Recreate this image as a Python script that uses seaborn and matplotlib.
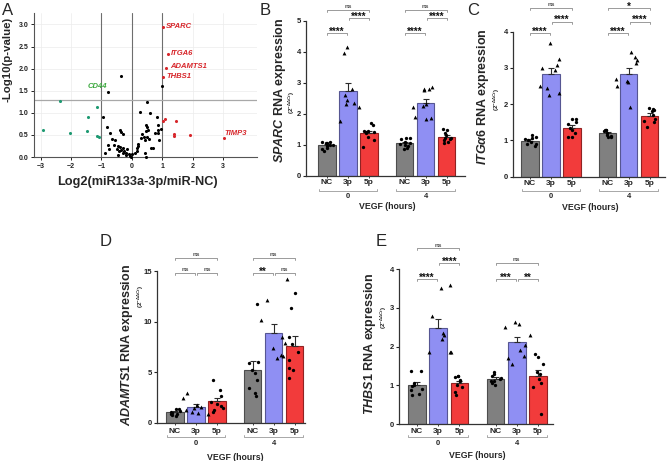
import numpy as np
import pandas as pd
import matplotlib
matplotlib.use('Agg')
from matplotlib import pyplot as plt
import seaborn as sns

sns.set_theme(style='ticks')
plt.rcParams['font.family'] = ['Liberation Sans', 'DejaVu Sans']
plt.rcParams['font.weight'] = 'bold'
plt.rcParams['mathtext.fontset'] = 'custom'
plt.rcParams['mathtext.it'] = 'Liberation Sans:italic:bold'
plt.rcParams['mathtext.rm'] = 'Liberation Sans:bold'
plt.rcParams['mathtext.bf'] = 'Liberation Sans:bold'
np.random.seed(7)

'''-------------------------------------------------------------
                    PANEL A - VOLCANO DATA
----------------------------------------------------------------'''
black_x = [-0.36, -0.78, 0.98, 0.49, -0.94, -0.83, -0.73, -0.64, -0.78, -0.74, -0.88, -0.39,
           -0.36, -0.28, -0.56, -0.45, -0.40, -0.48, -0.42, -0.35, -0.30, -0.25, -0.20, -0.15,
           -0.10, -0.05, -0.45, -0.30, -0.20, 0.02, -0.03, 0.16, 0.21, 0.18, 0.10, 0.45, 0.43,
           0.50, 0.55, 0.40, 0.44, 0.70, 0.63, 0.27, 0.60, 0.82, 0.48, 0.50, 0.52, 0.46, 0.85,
           0.87, 0.86, 0.95, 0.90, 0.33, 0.20, -0.60, 0.75, 0.30]
black_y = [1.83, 1.48, 1.61, 1.25, 0.90, 0.68, 0.55, 0.40, 0.27, 0.19, 0.10, 0.61,
           0.56, 0.51, 0.38, 0.25, 0.22, 0.18, 0.13, 0.16, 0.20, 0.14, 0.10, 0.18,
           0.06, 0.03, 0.05, 0.08, 0.04, 0.07, 0.01, 0.20, 0.24, 0.14, 0.10, 0.01, 0.38,
           0.46, 0.40, 0.45, 0.09, 0.21, 0.20, 1.01, 1.00, 0.91, 0.72, 0.68, 0.62, 0.58, 0.72,
           0.62, 0.55, 0.63, 0.38, 0.52, 0.30, 0.28, 0.55, 0.42]
green_x = [-2.93, -2.36, -2.05, -1.45, -1.47, -1.13, -1.16, -1.09]
green_y = [0.62, 1.27, 0.54, 0.91, 0.59, 1.13, 0.48, 0.46]
red_x = [1.01, 1.18, 1.12, 1.01, 1.03, 1.10, 1.46, 1.38, 1.40, 1.91, 3.04]
red_y = [2.95, 2.34, 2.01, 1.82, 0.82, 0.85, 0.81, 0.52, 0.47, 0.49, 0.42]
red_names = ['SPARC', 'ITGA6', 'ADAMTS1', 'THBS1', '', '', '', '', '', '', 'TIMP3']
cd44_point = (-0.78, 1.48)

'''-------------------------------------------------------------
        BAR PANELS - order: NC, 3p, 5p (0 h), NC, 3p, 5p (4 h)
----------------------------------------------------------------'''
conds = ['NC', '3p', '5p', 'NC', '3p', '5p']
vegf = ['0', '4']

sparc_vals = [[1.1, 1.1, 1.05, 1.0, 1.0, 0.95, 0.9, 0.85, 0.8, 1.05],
              [4.15, 3.95, 2.8, 2.6, 2.45, 2.35, 2.3, 2.2, 1.77],
              [1.7, 1.62, 1.45, 1.45, 1.42, 1.4, 1.38, 1.25, 1.15, 0.93],
              [1.22, 1.2, 1.18, 1.1, 1.05, 1.02, 1.0, 0.95, 0.9, 0.85],
              [2.85, 2.8, 2.78, 2.8, 2.3, 2.25, 2.2, 1.9, 1.85, 1.82],
              [1.5, 1.46, 1.38, 1.3, 1.22, 1.2, 1.17, 1.15, 1.1, 1.05]]
sparc_sig = [(0, 1, 4.6, '****'), (1, 2, 5.09, '****'), (0, 2, 5.35, 'ns'),
             (3, 4, 4.6, '****'), (4, 5, 5.09, '****'), (3, 5, 5.35, 'ns')]

itga6_vals = [[1.15, 1.1, 1.08, 1.05, 1.0, 0.95, 0.9, 0.9, 0.85],
              [3.7, 3.25, 3.08, 3.0, 2.95, 2.5, 2.45, 2.3, 2.25],
              [1.6, 1.58, 1.5, 1.45, 1.35, 1.3, 1.2, 1.1, 1.1],
              [1.3, 1.3, 1.28, 1.25, 1.2, 1.15, 1.12, 1.1, 1.1],
              [3.45, 3.3, 3.22, 3.15, 2.7, 2.65, 2.6, 2.5, 1.93],
              [1.9, 1.88, 1.85, 1.8, 1.7, 1.6, 1.55, 1.5, 1.38]]
itga6_sig = [(0, 1, 3.96, '****'), (1, 2, 4.28, '****'), (0, 2, 4.65, 'ns'),
             (3, 4, 3.96, '****'), (4, 5, 4.28, '****'), (3, 5, 4.65, '*')]

adamts1_vals = [[1.4, 1.35, 1.2, 1.1, 1.0, 0.9, 0.85, 0.75, 0.65],
                [2.9, 2.4, 1.75, 1.6, 1.5, 1.25, 1.1, 1.0, 0.9],
                [4.2, 3.2, 2.6, 2.0, 1.8, 1.7, 1.5, 1.25, 1.1],
                [11.7, 6.0, 5.9, 5.2, 4.9, 4.2, 3.4, 2.9, 2.6],
                [14.2, 12.1, 10.2, 8.5, 7.9, 7.4, 6.7, 6.6, 6.4],
                [12.8, 11.3, 8.5, 7.8, 7.0, 6.2, 5.4, 5.2, 4.4]]
adamts1_sig = [(0, 1, 14.78, 'ns'), (1, 2, 14.78, 'ns'), (0, 2, 16.26, 'ns'),
               (3, 4, 14.78, '**'), (4, 5, 14.78, 'ns'), (3, 5, 16.26, 'ns')]

thbs1_vals = [[1.38, 1.37, 1.05, 1.0, 0.98, 0.9, 0.88, 0.77, 0.75],
              [3.58, 3.5, 2.8, 2.35, 2.3, 2.2, 1.87, 1.85, 1.85],
              [1.25, 1.24, 1.22, 1.14, 1.1, 1.0, 0.96, 0.83, 0.75],
              [1.35, 1.28, 1.25, 1.2, 1.15, 1.12, 1.1, 1.05, 1.0],
              [2.62, 2.58, 2.5, 2.3, 2.05, 1.9, 1.75, 1.7, 1.55],
              [1.8, 1.73, 1.55, 1.35, 1.3, 1.15, 1.05, 0.95, 0.25]]
thbs1_sig = [(0, 1, 3.73, '****'), (1, 2, 4.15, '****'), (0, 2, 4.53, 'ns'),
             (3, 4, 3.73, '***'), (4, 5, 3.73, '**'), (3, 5, 4.15, 'ns')]

'''-------------------------------------------------------------
                        FIGURE / LAYOUT
----------------------------------------------------------------'''
W, H = 669, 461
fig = plt.figure(figsize=(W / 100, H / 100), dpi=100)
positions = [0, 1, 2, 3.7, 4.7, 5.7]
palette = {'NC': '#808080', '3p': '#8f8ff3', '5p': '#f23b3b'}


def add_ax(l, t, r, b):
    return fig.add_axes([l / W, 1 - b / H, (r - l) / W, (b - t) / H])


def ftext(x, y, s, **kw):
    fig.text(x / W, 1 - y / H, s, **kw)


'''-------------------------------------------------------------
                        PANEL A - VOLCANO
----------------------------------------------------------------'''
axA = add_ax(34, 13, 257, 157)
axA.set_xlim(-3.22, 4.12)
axA.set_ylim(0, 3.26)
axA.grid(True, color='#ececec', lw=0.5)
axA.set_axisbelow(True)
for xv in [-1, 0, 1]:
    axA.axvline(xv, color='#6e6e6e', lw=0.8, zorder=1)
axA.axhline(1.3, color='#a8a8a8', lw=0.9, zorder=1)
sns.scatterplot(x=black_x, y=black_y, color='black', s=5, linewidth=0, ax=axA, clip_on=False, zorder=3)
sns.scatterplot(x=green_x, y=green_y, color='#1e9a72', s=5, linewidth=0, ax=axA, clip_on=False, zorder=3)
sns.scatterplot(x=red_x, y=red_y, color='#d7262b', s=5, linewidth=0, ax=axA, clip_on=False, zorder=3)
offsets = {'SPARC': (2.5, 0), 'ITGA6': (2, 0), 'ADAMTS1': (3, 1.5), 'THBS1': (3, 0), 'TIMP3': (0.5, 3.5)}
for xv, yv, nm in zip(red_x, red_y, red_names):
    if nm:
        axA.annotate(nm, (xv, yv), xytext=offsets[nm], textcoords='offset points', color='#d7262b',
                     fontsize=5.5, fontstyle='italic', va='center', ha='left', annotation_clip=False)
axA.annotate('CD44', cd44_point, xytext=(-1, 4), textcoords='offset points', color='#3aa83c',
             fontsize=5.5, fontstyle='italic', va='center', ha='right')
axA.set_xticks(range(-3, 4))
axA.set_yticks(np.arange(0, 3.01, 0.5))
axA.set_yticklabels(['%.1f' % v for v in np.arange(0, 3.01, 0.5)])
axA.tick_params(labelsize=5, length=2.5, width=0.7, pad=1.5, colors='#222')
for s in ['top', 'right']:
    axA.spines[s].set_visible(False)
for s in ['left', 'bottom']:
    axA.spines[s].set_color('#555')
    axA.spines[s].set_linewidth(0.8)
ftext(137.5, 181.5, 'Log2(miR133a-3p/miR-NC)', ha='center', va='center', fontsize=9.2)
ftext(8, 59, '-Log10(p-value)', ha='center', va='center', rotation=90, fontsize=8.2)


'''-------------------------------------------------------------
                        BAR PANELS
----------------------------------------------------------------'''
def yfrac(ax, off_px):
    return -off_px / (ax.get_position().height * H)


def bar_panel(box, vals, xlim, ylim, yticks, sig, ylabel, lab_xy, sub_xy, offs):
    ax = add_ax(*box)
    rows = []
    for p, c, v in zip(positions, conds, vals):
        for val in v:
            rows.append({'pos': p, 'cond': c, 'val': val})
    df = pd.DataFrame(rows)
    sns.barplot(data=df, x='pos', y='val', hue='cond', palette=palette, native_scale=True,
                errorbar=None, width=0.82, dodge=False, legend=False, saturation=1, ax=ax)
    for patch in ax.patches:
        fc = patch.get_facecolor()
        patch.set_edgecolor(tuple(c * 0.6 for c in fc[:3]))
        patch.set_linewidth(0.8)
    stats = df.groupby('pos')['val'].agg(['mean', 'sem']).loc[positions]
    ax.errorbar(positions, stats['mean'], yerr=[np.zeros(len(positions)), stats['sem']], fmt='none',
                ecolor='#2b2b2b', elinewidth=0.8, capsize=2.2, capthick=0.8, zorder=3)
    sns.stripplot(data=df[df.cond != '3p'], x='pos', y='val', native_scale=True, color='black',
                  marker='o', size=2.4, jitter=0.17, ax=ax, zorder=4)
    sns.stripplot(data=df[df.cond == '3p'], x='pos', y='val', native_scale=True, color='black',
                  marker='^', size=2.8, jitter=0.17, ax=ax, zorder=4)
    ax.set_xlim(*xlim)
    ax.set_ylim(*ylim)
    ax.set_yticks(yticks)
    ax.set_xticks(positions)
    ax.set_xticklabels([])
    ax.set_xlabel('')
    ax.set_ylabel('')
    ax.tick_params(axis='y', labelsize=5.5, length=2.5, width=0.8, pad=1.2, colors='#222')
    ax.tick_params(axis='x', length=1.5, width=0.6, colors='#222')
    sns.despine(ax=ax)
    for s in ['left', 'bottom']:
        ax.spines[s].set_color('#333')
        ax.spines[s].set_linewidth(0.9)

    # significance brackets
    axh = ax.get_position().height * H
    tick = 2.0 / axh * (ylim[1] - ylim[0])
    for g1, g2, yv, txt in sig:
        x1 = positions[g1] + (0.05 if g1 in (1, 4) else 0)
        x2 = positions[g2] - (0.05 if g2 in (1, 4) else 0)
        ax.plot([x1, x1, x2, x2], [yv - tick, yv, yv, yv - tick], color='#8a8a8a', lw=0.6, clip_on=False)
        if txt == 'ns':
            ax.annotate(txt, ((x1 + x2) / 2, yv), xytext=(0, 0.6), textcoords='offset points',
                        ha='center', va='bottom', fontsize=4.6, color='#555', annotation_clip=False)
        else:
            ax.annotate(txt, ((x1 + x2) / 2, yv), xytext=(0, -2.6), textcoords='offset points',
                        ha='center', va='bottom', fontsize=7, color='#111', annotation_clip=False)

    # labels below the axis
    trans = ax.get_xaxis_transform()
    y_tick, y_br, y_grp, y_vegf = [yfrac(ax, o) for o in offs]
    up = yfrac(ax, offs[1] - 2) - y_br
    for p, c in zip(positions, conds):
        ax.text(p, y_tick, c, transform=trans, ha='center', va='center', fontsize=6, clip_on=False)
    for k, g in enumerate(vegf):
        x0 = positions[3 * k] - 0.4
        x1 = positions[3 * k + 2] + 0.4
        ax.plot([x0, x0, x1, x1], [y_br + up, y_br, y_br, y_br + up], transform=trans,
                color='#9a9a9a', lw=0.6, clip_on=False)
        ax.text(positions[3 * k + 1], y_grp, g, transform=trans, ha='center', va='center',
                fontsize=5.5, clip_on=False)
    ax.text((positions[0] + positions[-1]) / 2, y_vegf, 'VEGF (hours)', transform=trans,
            ha='center', va='center', fontsize=6.3, clip_on=False)
    ftext(lab_xy[0], lab_xy[1], ylabel, rotation=90, ha='center', va='center', fontsize=9)
    ftext(sub_xy[0], sub_xy[1], r'$(2^{-\Delta\Delta Ct})$', rotation=90, ha='center', va='center',
          fontsize=4.5)
    return ax


bar_panel((306, 20.7, 465, 175.7), sparc_vals, (-1.0, 6.57), (0, 5), range(0, 6), sparc_sig,
          r'$\mathit{SPARC}$ RNA expression', (280, 90.5), (292, 103), (7, 15, 21, 31))
bar_panel((513, 31.7, 665, 176.7), itga6_vals, (-0.81, 6.43), (0, 4), range(0, 5), itga6_sig,
          r'$\mathit{ITG\alpha 6}$ RNA expression', (483, 97), (497, 100), (6.3, 14, 20, 30.6))
bar_panel((157, 271, 305, 422.7), adamts1_vals, (-0.86, 6.19), (0, 15), [0, 5, 10, 15], adamts1_sig,
          r'$\mathit{ADAMTS1}$ RNA expression', (126.7, 345), (141, 297), (9, 14.6, 20.6, 35))
bar_panel((399, 269, 553, 424), thbs1_vals, (-0.84, 6.4), (0, 4), range(0, 5), thbs1_sig,
          r'$\mathit{THBS1}$ RNA expression', (370, 344), (383.5, 318), (7.7, 13.3, 19.3, 31.7))

'''-------------------------------------------------------------
                        PANEL LETTERS
----------------------------------------------------------------'''
for lt, (lx, ly) in zip('ABCDE', [(2, 3), (260, 3), (467, 3), (100, 234), (376, 234)]):
    ftext(lx, ly, lt, fontsize=12, fontweight='normal', ha='left', va='top')

fig.savefig('out.png', dpi=100)
